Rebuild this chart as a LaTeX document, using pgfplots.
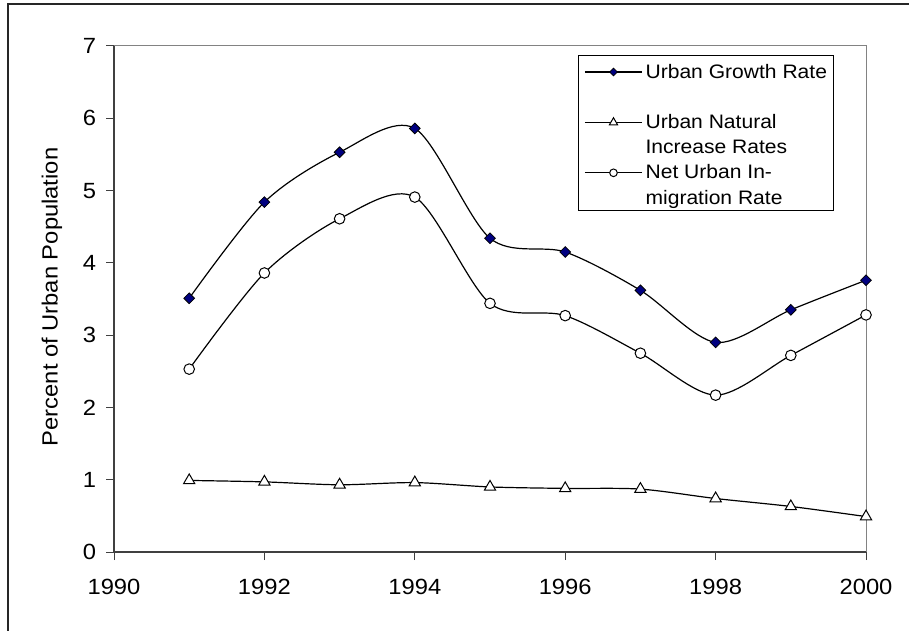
\documentclass[border=0pt]{standalone}
\usepackage{fontspec}
\setmainfont{Liberation Sans}[FakeStretch=1.08]
\usepackage{pgfplots}
\pgfplotsset{compat=1.18}

\definecolor{urbnavy}{RGB}{0,0,128}
\definecolor{axisdark}{RGB}{64,64,64}
\definecolor{boxgray}{RGB}{130,130,130}

\begin{document}
\begin{tikzpicture}
% outer chart frame (right and bottom edges fall outside the page)
\draw[line width=1.5pt, black!85] (8pt,-20pt) -- (8pt,626pt) -- (930pt,626pt);

\begin{axis}[
  at={(114pt,78pt)}, anchor=south west,
  scale only axis, width=752pt, height=506pt,
  xmin=1990, xmax=2000, ymin=0, ymax=7,
  xtick={1990,1992,...,2000}, ytick={0,1,...,7},
  axis x line*=bottom, axis y line*=left,
  axis line style={axisdark, line width=1.3pt},
  tick align=outside, major tick length=8pt,
  tick style={axisdark, line width=1pt},
  /pgf/number format/assume math mode=true,
  /pgf/number format/1000 sep={},
  ticklabel style={font=\fontsize{22}{26}\selectfont},
  xticklabel style={yshift=-16pt},
  yticklabel style={xshift=-6.5pt},
  ylabel={Percent of Urban Population},
  ylabel style={at={(axis description cs:-0.0824,0.504)}, anchor=center, font=\fontsize{22}{26}\selectfont},
  clip=false,
  legend image code/.code={
    \draw[mark repeat=2, mark phase=2, #1, every mark/.append style={scale=0.72}]
      plot coordinates {(0pt,6pt) (28.5pt,6pt) (57pt,6pt)};
  },
  legend style={at={(0.617,0.982)}, anchor=north west, draw=black, line width=0.8pt,
    fill=white, inner xsep=6pt, inner ysep=5pt, row sep=6.2pt, column sep=3pt,
    font=\fontsize{19.5}{25}\selectfont, cells={anchor=base west}, nodes={inner sep=0pt}},
]
\draw[boxgray, line width=1pt] (rel axis cs:0,1) -- (rel axis cs:1,1) -- (rel axis cs:1,0);

\addplot[black, line width=1.2pt, smooth, tension=0.5,
  mark=square*, mark size=3.8pt,
  mark options={rotate=45, fill=urbnavy, draw=black, line width=0.8pt}]
  table {
1991 3.51
1992 4.84
1993 5.53
1994 5.86
1995 4.34
1996 4.15
1997 3.62
1998 2.90
1999 3.35
2000 3.76
};
\addlegendentry{\strut Urban Growth Rate}
\addlegendimage{empty legend}
\addlegendentry{\strut}

\addplot[black, line width=1.2pt, smooth, tension=0.5,
  mark=triangle*, mark size=6.5pt,
  mark options={fill=white, draw=black, line width=1pt}]
  table {
1991 0.99
1992 0.97
1993 0.93
1994 0.96
1995 0.90
1996 0.88
1997 0.87
1998 0.74
1999 0.63
2000 0.49
};
\addlegendentry{\strut Urban Natural}
\addlegendimage{empty legend}
\addlegendentry{\strut Increase Rates}

\addplot[black, line width=1.2pt, smooth, tension=0.5,
  mark=*, mark size=5.3pt,
  mark options={fill=white, draw=black, line width=1pt}]
  table {
1991 2.53
1992 3.86
1993 4.61
1994 4.91
1995 3.44
1996 3.27
1997 2.75
1998 2.17
1999 2.72
2000 3.28
};
\addlegendentry{\strut Net Urban In-}
\addlegendimage{empty legend}
\addlegendentry{\strut migration Rate}
\end{axis}

\pgfresetboundingbox
\path[use as bounding box] (0pt,0pt) rectangle (909pt,630pt);
\end{tikzpicture}
\end{document}
